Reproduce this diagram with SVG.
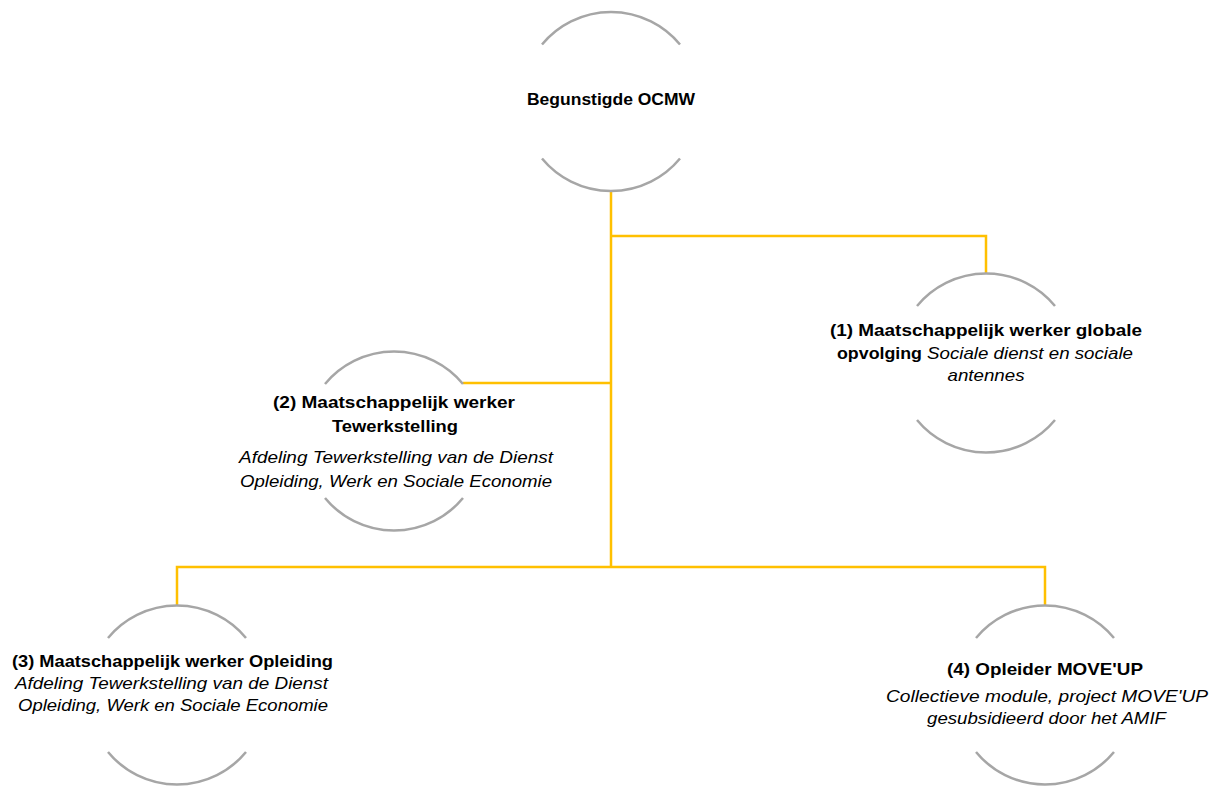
<svg xmlns="http://www.w3.org/2000/svg" width="1215" height="787" viewBox="0 0 1215 787">
<style>
.arc{fill:none;stroke:#A6A6A6;stroke-width:2.5}
.con{fill:none;stroke:#FFC000;stroke-width:2.5}
text{font-family:"Liberation Sans",Arial,sans-serif;font-size:17px;fill:#000}
.b{font-weight:bold}
.i{font-style:italic}
.c{text-anchor:middle}
</style>
<rect width="1215" height="787" fill="#fff"/>
<g id="connectors">
<path class="con" d="M611 191V567"/>
<path class="con" d="M611 236H986V273.5"/>
<path class="con" d="M611 383H463"/>
<path class="con" d="M177 606V567H1045V606"/>
</g>
<g id="node-ocmw">
<path class="arc" d="M542 44.5A89.5 89.5 0 0 1 680 44.5M542 158.5A89.5 89.5 0 0 0 680 158.5"/>
<text class="b c" x="611" y="105" textLength="168" lengthAdjust="spacingAndGlyphs">Begunstigde OCMW</text>
</g>
<g id="node-1">
<path class="arc" d="M917 306A89.5 89.5 0 0 1 1055 306M917 420A89.5 89.5 0 0 0 1055 420"/>
<text class="b c" x="986" y="336" textLength="312" lengthAdjust="spacingAndGlyphs">(1) Maatschappelijk werker globale</text>
<text class="b" x="837" y="358.5" textLength="85" lengthAdjust="spacingAndGlyphs">opvolging</text>
<text class="i" x="927" y="358.5" textLength="206" lengthAdjust="spacingAndGlyphs">Sociale dienst en sociale</text>
<text class="i c" x="986" y="381" textLength="77" lengthAdjust="spacingAndGlyphs">antennes</text>
</g>
<g id="node-2">
<path class="arc" d="M325 384A89.5 89.5 0 0 1 463 384M325 498A89.5 89.5 0 0 0 463 498"/>
<text class="b c" x="394" y="408" textLength="242" lengthAdjust="spacingAndGlyphs">(2) Maatschappelijk werker</text>
<text class="b c" x="395" y="432" textLength="126" lengthAdjust="spacingAndGlyphs">Tewerkstelling</text>
<text class="i c" x="396" y="463" textLength="314" lengthAdjust="spacingAndGlyphs">Afdeling Tewerkstelling van de Dienst</text>
<text class="i c" x="396" y="487" textLength="312" lengthAdjust="spacingAndGlyphs">Opleiding, Werk en Sociale Economie</text>
</g>
<g id="node-3">
<path class="arc" d="M108 638A89.5 89.5 0 0 1 246 638M108 752A89.5 89.5 0 0 0 246 752"/>
<text class="b c" x="172.5" y="667" textLength="321" lengthAdjust="spacingAndGlyphs">(3) Maatschappelijk werker Opleiding</text>
<text class="i c" x="171.5" y="689" textLength="313" lengthAdjust="spacingAndGlyphs">Afdeling Tewerkstelling van de Dienst</text>
<text class="i c" x="173" y="711" textLength="310" lengthAdjust="spacingAndGlyphs">Opleiding, Werk en Sociale Economie</text>
</g>
<g id="node-4">
<path class="arc" d="M976 638A89.5 89.5 0 0 1 1114 638M976 752A89.5 89.5 0 0 0 1114 752"/>
<text class="b c" x="1045" y="675" textLength="196" lengthAdjust="spacingAndGlyphs">(4) Opleider MOVE'UP</text>
<text class="i c" x="1047" y="702" textLength="322" lengthAdjust="spacingAndGlyphs">Collectieve module, project MOVE'UP</text>
<text class="i c" x="1046.5" y="724" textLength="239" lengthAdjust="spacingAndGlyphs">gesubsidieerd door het AMIF</text>
</g>
</svg>
